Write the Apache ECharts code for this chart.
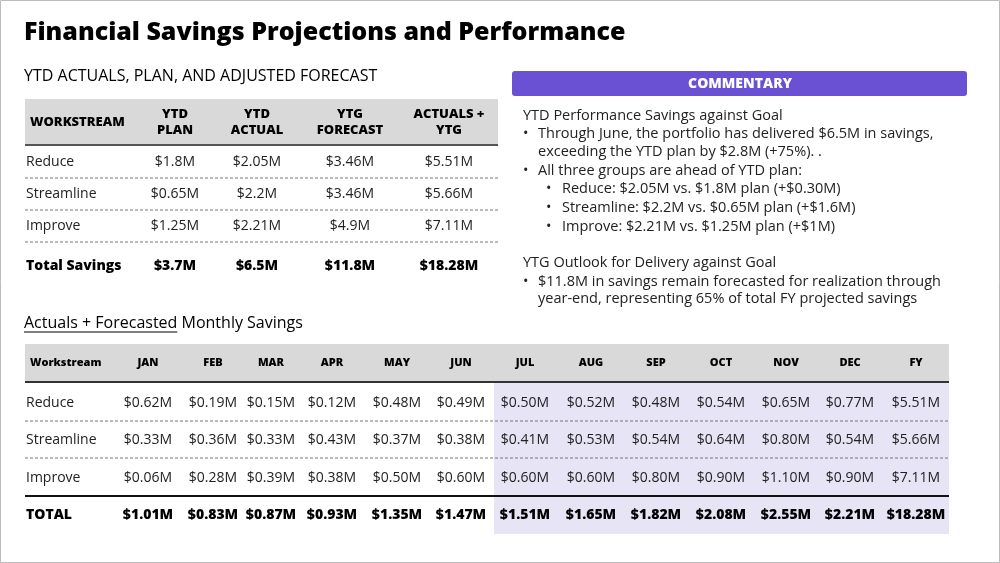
<!DOCTYPE html>
<html lang="en">
<head>
  <meta charset="UTF-8">
  <title>Financial Savings Projections and Performance</title>
  <style>html,body{margin:0;padding:0;background:#fff;}</style>
</head>
<body>
  <div id="main" style="width: 1000px; height:563px;"></div>
  <script src="https://cdn.jsdelivr.net/npm/echarts@6/dist/echarts.min.js"></script>
  <script type="text/javascript">
    // YTD table data
    var ytdHeaders = ['WORKSTREAM', 'YTD\nPLAN', 'YTD\nACTUAL', 'YTG\nFORECAST', 'ACTUALS +\nYTG'];
    var workstreams = ['Reduce', 'Streamline', 'Improve'];
    var ytdPlan = ['$1.8M', '$0.65M', '$1.25M'];
    var ytdActual = ['$2.05M', '$2.2M', '$2.21M'];
    var ytgForecast = ['$3.46M', '$3.46M', '$4.9M'];
    var actualsYtg = ['$5.51M', '$5.66M', '$7.11M'];
    var ytdTotals = ['Total Savings', '$3.7M', '$6.5M', '$11.8M', '$18.28M'];

    // Monthly table data
    var months = ['JAN', 'FEB', 'MAR', 'APR', 'MAY', 'JUN', 'JUL', 'AUG', 'SEP', 'OCT', 'NOV', 'DEC', 'FY'];
    var reduceMonthly = ['$0.62M', '$0.19M', '$0.15M', '$0.12M', '$0.48M', '$0.49M', '$0.50M', '$0.52M', '$0.48M', '$0.54M', '$0.65M', '$0.77M', '$5.51M'];
    var streamlineMonthly = ['$0.33M', '$0.36M', '$0.33M', '$0.43M', '$0.37M', '$0.38M', '$0.41M', '$0.53M', '$0.54M', '$0.64M', '$0.80M', '$0.54M', '$5.66M'];
    var improveMonthly = ['$0.06M', '$0.28M', '$0.39M', '$0.38M', '$0.50M', '$0.60M', '$0.60M', '$0.60M', '$0.80M', '$0.90M', '$1.10M', '$0.90M', '$7.11M'];
    var totalMonthly = ['$1.01M', '$0.83M', '$0.87M', '$0.93M', '$1.35M', '$1.47M', '$1.51M', '$1.65M', '$1.82M', '$2.08M', '$2.55M', '$2.21M', '$18.28M'];

    // Commentary lines: [indent level, text, y]
    var commentary = [
      [0, 'YTD Performance Savings against Goal', 116],
      [1, 'Through June, the portfolio has delivered $6.5M in savings,', 134],
      [1.5, 'exceeding the YTD plan by $2.8M (+75%). .', 152],
      [1, 'All three groups are ahead of YTD plan:', 171],
      [2, 'Reduce: $2.05M vs. $1.8M plan (+$0.30M)', 189],
      [2, 'Streamline: $2.2M vs. $0.65M plan (+$1.6M)', 208],
      [2, 'Improve: $2.21M vs. $1.25M plan (+$1M)', 227],
      [0, 'YTG Outlook for Delivery against Goal', 263],
      [1, '$11.8M in savings remain forecasted for realization through', 282],
      [1.5, 'year-end, representing 65% of total FY projected savings', 299]
    ];

    var FONT = '"Open Sans", "Noto Sans", sans-serif';
    var els = [];

    function fontOf(opt) {
      return (opt.weight || 'normal') + ' ' + (opt.size || 13) + 'px ' + FONT;
    }
    function txt(x, y, s, opt) {
      opt = opt || {};
      els.push({
        type: 'text', x: x, y: y,
        style: {
          text: s, fill: opt.fill || '#111', font: fontOf(opt),
          align: opt.align || 'left', verticalAlign: 'middle',
          lineHeight: opt.lineHeight || 16
        }
      });
    }
    function rect(x, y, w, h, fill, r) {
      els.push({ type: 'rect', shape: { x: x, y: y, width: w, height: h, r: r || 0 }, style: { fill: fill } });
    }
    function line(x1, y1, x2, y2, stroke, width, dash) {
      els.push({ type: 'line', shape: { x1: x1, y1: y1, x2: x2, y2: y2 },
        style: { stroke: stroke, lineWidth: width, lineDash: dash || null } });
    }
    var ctx = document.createElement('canvas').getContext('2d');
    function measure(s, opt) { ctx.font = fontOf(opt); return ctx.measureText(s).width; }

    // slide border
    els.push({ type: 'rect', shape: { x: 0.5, y: 0.5, width: 999, height: 562 }, style: { fill: 'none', stroke: '#bbb', lineWidth: 1 } });

    txt(24, 33, 'Financial Savings Projections and Performance', { size: 25, weight: '800', fill: '#000' });
    txt(24, 76, 'YTD ACTUALS, PLAN, AND ADJUSTED FORECAST', { size: 16, fill: '#000' });

    // YTD table
    rect(25, 99, 473, 46, '#d9d9d9');
    line(25, 145, 498, 145, '#555', 2);
    var ytdX = [30, 175, 257, 350, 449];
    ytdHeaders.forEach(function (h, i) {
      txt(ytdX[i], 122, h, { size: 13, weight: '800', align: i === 0 ? 'left' : 'center', lineHeight: 16, fill: '#000' });
    });
    var ytdCols = [ytdPlan, ytdActual, ytgForecast, actualsYtg];
    workstreams.forEach(function (w, r) {
      var y = 162 + r * 32;
      txt(26, y, w, { size: 14, fill: '#222' });
      ytdCols.forEach(function (col, c) {
        txt(ytdX[c + 1], y, col[r], { size: 14, align: 'center', fill: '#222' });
      });
      line(25, y + 16, 498, y + 16, '#777', 1, [3, 2]);
    });
    ytdTotals.forEach(function (t, i) {
      txt(i === 0 ? 26 : ytdX[i], 266, t, { size: 14, weight: '800', align: i === 0 ? 'left' : 'center', fill: '#000' });
    });

    // Commentary
    rect(512, 71, 455, 25, '#6a50d3', 3);
    txt(740, 84, 'COMMENTARY', { size: 14, weight: '800', fill: '#fff', align: 'center' });
    commentary.forEach(function (c) {
      var lvl = c[0], y = c[2], o = { size: 14.5, fill: '#222' };
      if (lvl === 0) {
        txt(523, y, c[1], o);
      } else if (lvl === 1) {
        txt(523, y, '\u2022', o);
        txt(538, y, c[1], o);
      } else if (lvl === 1.5) {
        txt(538, y, c[1], o);
      } else {
        txt(546, y, '\u2022', o);
        txt(562, y, c[1], o);
      }
    });

    // Monthly title
    var t1 = 'Actuals + Forecasted', tOpt = { size: 16, fill: '#000' };
    var w1 = measure(t1, tOpt);
    txt(24, 323, t1, tOpt);
    line(24, 332, 24 + w1, 332, '#000', 1);
    txt(24 + w1, 323, ' Monthly Savings', tOpt);

    // Monthly table
    rect(25, 344, 924, 38, '#d9d9d9');
    rect(494, 382, 455, 152, '#e6e4f5');
    line(25, 382, 949, 382, '#333', 2);
    var mX = [148, 213, 271, 332, 397, 461, 525, 591, 656, 721, 786, 850, 916];
    txt(30, 363, 'Workstream', { size: 11, weight: '800', fill: '#000' });
    months.forEach(function (m, i) {
      txt(mX[i], 363, m, { size: 11, weight: '800', align: 'center', fill: '#000' });
    });
    var mRows = [reduceMonthly, streamlineMonthly, improveMonthly];
    var rowY = [403, 440, 478];
    workstreams.forEach(function (w, r) {
      txt(26, rowY[r], w, { size: 14, fill: '#222' });
      mRows[r].forEach(function (v, i) {
        txt(mX[i], rowY[r], v, { size: 14, align: 'center', fill: '#222' });
      });
      if (r < 2) line(25, rowY[r] + 18, 949, rowY[r] + 18, '#777', 1, [3, 2]);
    });
    line(25, 496, 949, 496, '#111', 2);
    txt(26, 515, 'TOTAL', { size: 14, weight: '800', fill: '#000' });
    totalMonthly.forEach(function (v, i) {
      txt(mX[i], 515, v, { size: 14, weight: '800', align: 'center', fill: '#000' });
    });

    var myChart = echarts.init(document.getElementById('main'));
    myChart.setOption({ animation: false, graphic: { elements: els } });
  </script>
</body>
</html>
